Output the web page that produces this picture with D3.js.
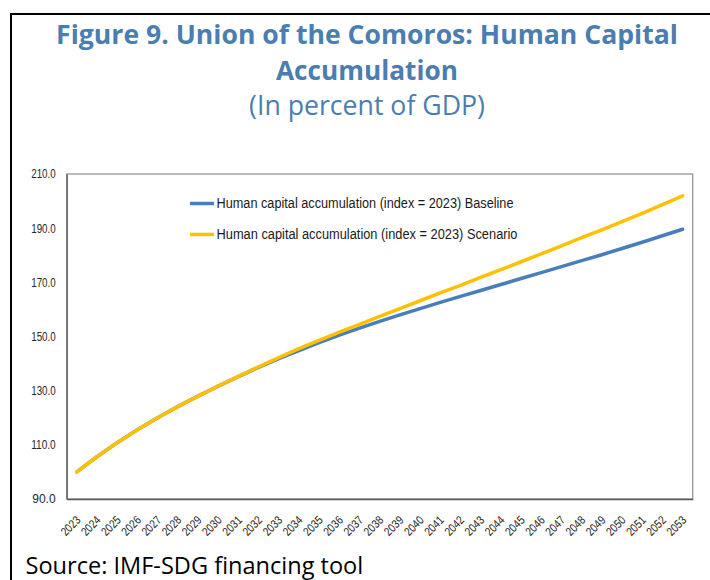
<!DOCTYPE html>
<html><head><meta charset="utf-8">
<script src="https://cdn.jsdelivr.net/npm/d3@7"></script>
<style>
html,body{margin:0;padding:0;background:#fff;}
svg{display:block;}
</style></head>
<body>
<script>
// ---- data ----
const years = d3.range(2023, 2054).map(String);
const baseline = [100.0,105.6,110.8,115.6,120.0,124.1,128.0,131.7,135.2,138.6,141.8,144.8,147.7,150.5,153.1,155.6,158.0,160.3,162.6,164.8,167.0,169.2,171.4,173.6,175.8,178.0,180.2,182.5,184.8,187.2,189.6];
const scenario = [100.0,105.6,110.8,115.6,120.0,124.1,128.0,131.7,135.3,138.8,142.2,145.5,148.6,151.6,154.5,157.4,160.3,163.2,166.1,168.9,171.8,174.7,177.6,180.5,183.5,186.5,189.4,192.4,195.5,198.7,201.9];
const yTicks = [90,110,130,150,170,190,210];
const seriesNames = ["Human capital accumulation (index = 2023) Baseline","Human capital accumulation (index = 2023) Scenario"];
const titleLines = ["Figure 9. Union of the Comoros: Human Capital","Accumulation"];
const subtitle = "(In percent of GDP)";
const source = "Source: IMF-SDG financing tool";

const W = 710, H = 580;
const svg = d3.select("body").append("svg").attr("width", W).attr("height", H);

// outer frame
svg.append("line").attr("x1",11).attr("x2",11).attr("y1",13).attr("y2",H).attr("stroke","#000").attr("stroke-width",2);
svg.append("line").attr("x1",10).attr("x2",W).attr("y1",14).attr("y2",14).attr("stroke","#000").attr("stroke-width",2);

function fit(sel, target){
  const w = sel.node().getComputedTextLength();
  const fs = parseFloat(sel.attr("font-size"));
  sel.attr("font-size", fs*target/w);
  return fs*target/w;
}
function squeeze(sel, target){
  sel.each(function(){
    const w = this.getComputedTextLength();
    if (w > target) d3.select(this).attr("textLength", target).attr("lengthAdjust","spacingAndGlyphs");
  });
}

const titleColor = "#4a7db0";
const tf = "'Open Sans','Noto Sans',sans-serif";
const t1 = svg.append("text").attr("x",367).attr("y",44).attr("text-anchor","middle").attr("font-family",tf).attr("font-weight","bold").attr("font-size",26).attr("fill",titleColor).text(titleLines[0]);
fit(t1, 622);
const t2 = svg.append("text").attr("x",367).attr("y",80).attr("text-anchor","middle").attr("font-family",tf).attr("font-weight","bold").attr("font-size",26).attr("fill",titleColor).text(titleLines[1]);
fit(t2, 182);
const t3 = svg.append("text").attr("x",367).attr("y",115).attr("text-anchor","middle").attr("font-family",tf).attr("font-size",26).attr("fill",titleColor).text(subtitle);
fit(t3, 236);

// plot
const L = 66.7, R = 692.7, T = 174, B = 499;
const x = d3.scalePoint().domain(years).range([L, R]).padding(0.5);
const y = d3.scaleLinear().domain([90, 210]).range([B, T]);

svg.append("rect").attr("x",L).attr("y",T).attr("width",R-L).attr("height",B-T).attr("fill","none").attr("stroke","#8c8c8c").attr("stroke-width",1.2);

const nf = "'Liberation Sans',Arial,sans-serif";

const yAxis = svg.append("g").attr("transform",`translate(${L},0)`)
  .call(d3.axisLeft(y).tickValues(yTicks).tickFormat(d3.format(".1f")).tickSize(0).tickPadding(11));
yAxis.select(".domain").attr("stroke","#595959").attr("stroke-width",1.2);
yAxis.selectAll("text").attr("font-family",nf).attr("font-size",12).attr("fill","#262626");
squeeze(yAxis.selectAll("text"), 24.5);

const xAxis = svg.append("g").attr("transform",`translate(0,${B})`)
  .call(d3.axisBottom(x).tickSize(0).tickPadding(0));
xAxis.select(".domain").attr("stroke","#595959").attr("stroke-width",1.5);
xAxis.selectAll("text").attr("font-family",nf).attr("font-size",12).attr("fill","#262626")
  .attr("text-anchor","end").attr("y",null).attr("dy","0.35em")
  .attr("transform","translate(1,19) rotate(-45)");
squeeze(xAxis.selectAll("text"), 22);

const line = d3.line().x((d,i)=>x(years[i])).y(d=>y(d));
const colors = ["#4a7ebb","#ffc000"];
[baseline, scenario].forEach((s,i)=>{
  svg.append("path").datum(s).attr("d",line).attr("fill","none").attr("stroke",colors[i]).attr("stroke-width",3.5).attr("stroke-linejoin","round").attr("stroke-linecap","round");
});

// legend
const legY = [203.5, 234.5];
const legW = [297, 301];
seriesNames.forEach((n,i)=>{
  svg.append("line").attr("x1",190).attr("x2",214).attr("y1",legY[i]).attr("y2",legY[i]).attr("stroke",colors[i]).attr("stroke-width",3.5);
  const lt = svg.append("text").attr("x",216.5).attr("y",legY[i]).attr("dy","0.35em").attr("font-family",nf).attr("font-size",14).attr("fill","#1a1a1a").text(n);
  squeeze(lt, legW[i]);
});

const st = svg.append("text").attr("x",25.5).attr("y",574).attr("font-family",tf).attr("font-size",19).attr("fill","#000").text(source);
fit(st, 338);
</script>
</body></html>
